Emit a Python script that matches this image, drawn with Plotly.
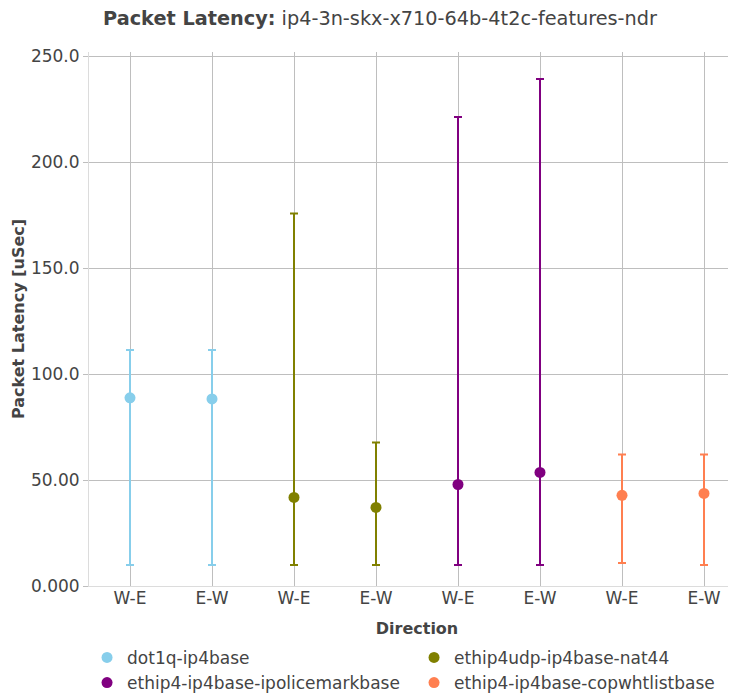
import plotly.graph_objects as go

series_names = ["dot1q-ip4base", "ethip4udp-ip4base-nat44",
                "ethip4-ip4base-ipolicemarkbase", "ethip4-ip4base-copwhtlistbase"]
series_colors = ["rgb(135,206,235)", "rgb(128,128,0)", "rgb(128,0,128)", "rgb(255,127,80)"]
directions = ["W-E", "E-W"]

avg_lat = [[88.8, 88.3], [41.8, 37.1], [47.9, 53.6], [42.8, 43.7]]
max_lat = [[111.4, 111.4], [175.8, 67.7], [221.3, 239.2], [62.0, 62.0]]
min_lat = [[9.9, 9.9], [9.9, 9.9], [9.9, 9.9], [10.8, 9.9]]

fig = go.Figure()
tickvals, ticktext = [], []
for i, name in enumerate(series_names):
    xs = [2 * i + j for j in range(len(directions))]
    tickvals += xs
    ticktext += directions
    fig.add_trace(go.Scatter(
        x=xs, y=avg_lat[i], name=name, mode="markers",
        marker=dict(color=series_colors[i], size=11),
        error_y=dict(type="data", symmetric=False,
                     array=[mx - a for mx, a in zip(max_lat[i], avg_lat[i])],
                     arrayminus=[a - mn for mn, a in zip(min_lat[i], avg_lat[i])],
                     color=series_colors[i], thickness=2, width=4),
    ))

font_family = "DejaVu Sans"
fig.update_layout(
    width=744, height=710, autosize=False,
    paper_bgcolor="white", plot_bgcolor="white",
    font=dict(family=font_family, size=17, color="rgb(68,68,68)"),
    title=dict(text="<b>Packet Latency:</b> ip4-3n-skx-x710-64b-4t2c-features-ndr",
               x=0.5, xanchor="center", xref="container",
               y=1 - 10 / 710, yanchor="middle", font=dict(size=19.3)),
    margin=dict(l=81, r=7, t=44, b=132),
    showlegend=True,
    legend=dict(orientation="h", x=-0.003, xanchor="left", y=-0.101, yanchor="top",
                font=dict(size=17), entrywidth=282),
    xaxis=dict(title=dict(text="<b>Direction</b>", font=dict(size=16)),
               tickmode="array", tickvals=tickvals, ticktext=ticktext,
               tickfont=dict(size=17), ticklabelstandoff=-3,
               range=[-0.5, 7.5], showgrid=True, gridcolor="rgb(190,190,190)",
               showline=True, linecolor="rgb(220,220,220)", zeroline=False,
               ticks="", fixedrange=True, automargin=False),
    yaxis=dict(title=dict(text="<b>Packet Latency [uSec]</b>", font=dict(size=16),
                          standoff=2),
               range=[0, 252], tickformat=".4r", tickvals=[0, 50, 100, 150, 200, 250],
               tickfont=dict(size=17),
               showgrid=True, gridcolor="rgb(190,190,190)", showline=True,
               linecolor="rgb(220,220,220)", zeroline=False, ticks="outside",
               tickcolor="rgb(190,190,190)", ticklen=5, automargin=False),
)

fig.write_html("out.html")
